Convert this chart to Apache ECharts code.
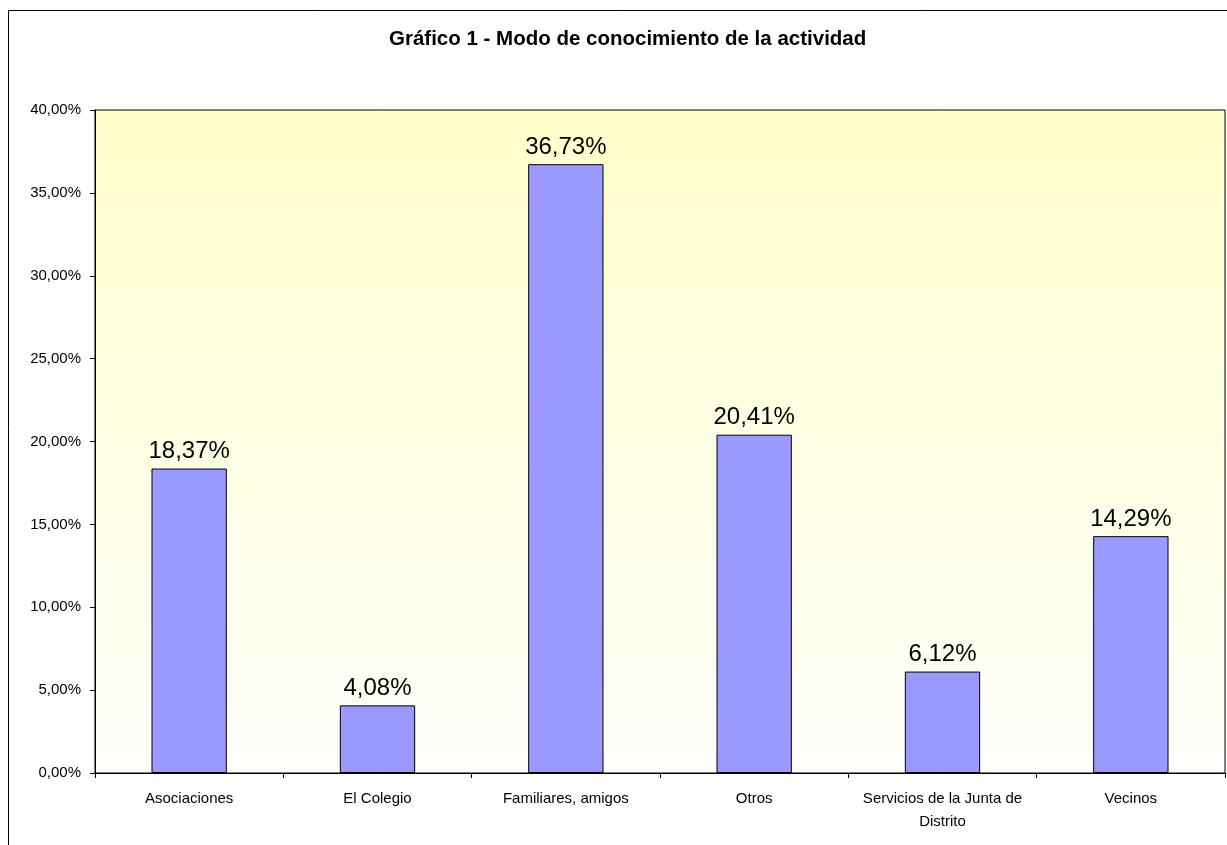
<!DOCTYPE html>
<html>
<head>
<meta charset="utf-8">
<script src="https://cdn.jsdelivr.net/npm/echarts@6/dist/echarts.min.js"></script>
<style>
html,body{margin:0;padding:0;background:#fff;}
#chart{width:1227px;height:845px;}
</style>
</head>
<body>
<div id="chart"></div>
<script>
var categories = ['Asociaciones','El Colegio','Familiares, amigos','Otros','Servicios de la Junta de\nDistrito','Vecinos'];
var values = [18.37, 4.08, 36.73, 20.41, 6.12, 14.29];
var yTicks = [0, 5, 10, 15, 20, 25, 30, 35, 40];

function pct(v){
    return v.toFixed(2).replace('.', ',') + '%';
}

var chart = echarts.init(document.getElementById('chart'));
chart.setOption({
    animation:false,
    backgroundColor:'#fff',
    textStyle:{fontFamily:'Liberation Sans, Arial, sans-serif'},
    title:{
        text:'Gráfico 1 - Modo de conocimiento de la actividad',
        left:384,
        top:24,
        textStyle:{fontSize:20.5,fontWeight:'bold',color:'#000',fontFamily:'Liberation Sans, Arial, sans-serif'}
    },
    graphic:[{
        type:'rect',
        shape:{x:8.5,y:10.5,width:1300,height:900},
        style:{fill:'none',stroke:'#000',lineWidth:1},
        silent:true,
        z:-1
    }],
    grid:{
        left:95,
        top:110,
        right:2,
        bottom:72,
        show:true,
        borderColor:'#000',
        borderWidth:1,
        backgroundColor:new echarts.graphic.LinearGradient(0,0,0,1,[
            {offset:0,color:'#FFFFCC'},
            {offset:1,color:'#FFFFFC'}
        ])
    },
    xAxis:{
        type:'category',
        data:categories,
        axisLine:{lineStyle:{color:'#000',width:1}},
        axisTick:{show:true,interval:0,length:5,lineStyle:{color:'#000'}},
        axisLabel:{color:'#000',fontSize:15,interval:0,margin:14,lineHeight:23}
    },
    yAxis:{
        type:'value',
        min:yTicks[0],
        max:yTicks[yTicks.length-1],
        interval:5,
        axisLine:{show:true,lineStyle:{color:'#000',width:1}},
        axisTick:{show:true,length:5,lineStyle:{color:'#000'}},
        splitLine:{show:false},
        axisLabel:{color:'#000',fontSize:15,margin:14,formatter:function(v){return pct(v);}}
    },
    series:[{
        type:'bar',
        data:values,
        barWidth:'40%',
        itemStyle:{color:'#9999FF',borderColor:'#000',borderWidth:1},
        label:{
            show:true,
            position:'top',
            distance:5,
            color:'#000',
            fontSize:24,
            formatter:function(p){return pct(p.value);}
        }
    }]
});
</script>
</body>
</html>
